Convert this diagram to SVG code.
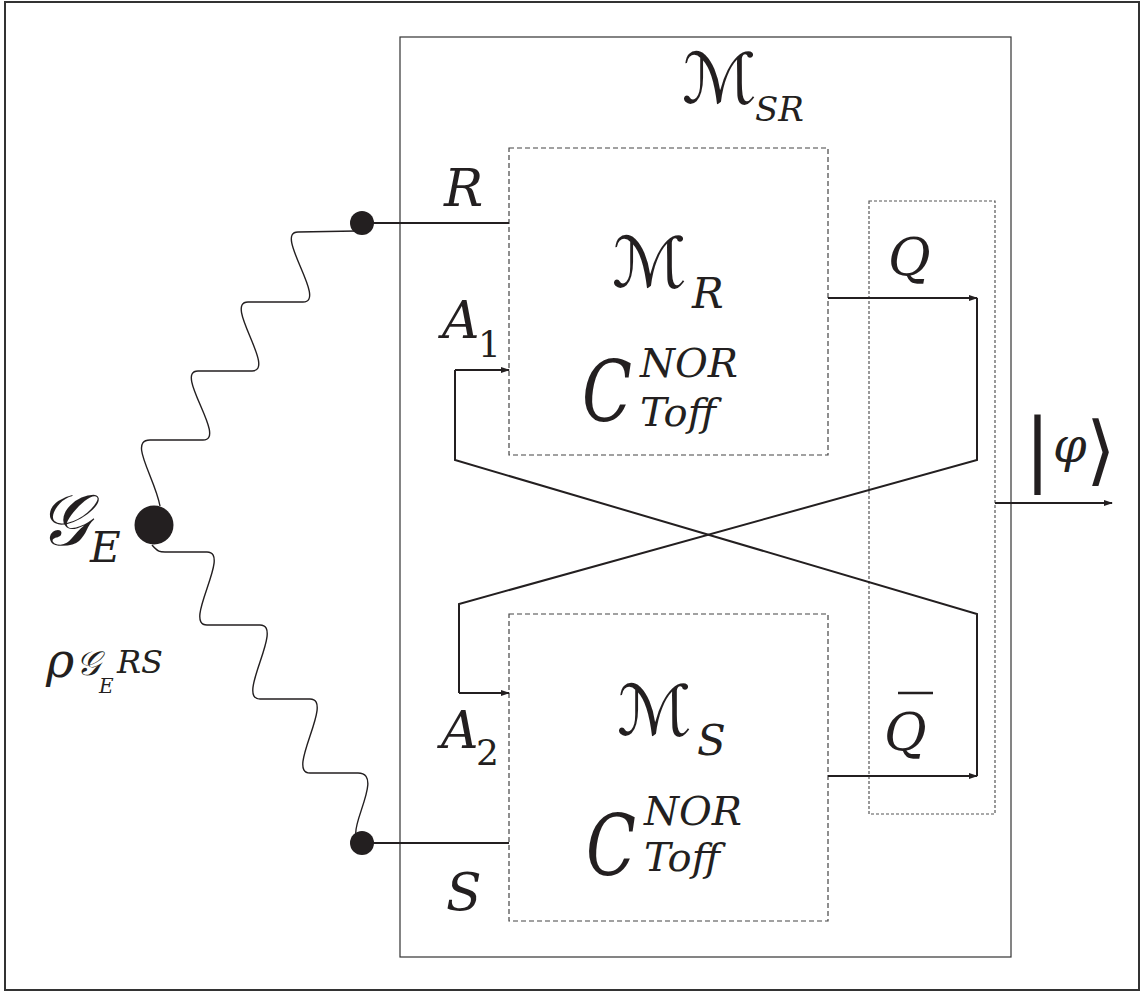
<svg xmlns="http://www.w3.org/2000/svg" width="1141" height="993" viewBox="0 0 1141 993">
<style>
.m{font-family:'DejaVu Serif','Liberation Serif',serif;font-style:italic;fill:#231f20}
.r{font-family:'DejaVu Serif','Liberation Serif',serif;fill:#231f20}
.s{font-family:'DejaVu Sans','Noto Sans',sans-serif;fill:#231f20}
.w{fill:none;stroke:#231f20;stroke-width:1.4}
.c{fill:none;stroke:#231f20;stroke-width:2}
.d{fill:none;stroke:#444;stroke-width:1.2;stroke-dasharray:5 3}
.o{fill:none;stroke:#555;stroke-width:1.2;stroke-dasharray:3 2}
.dot{fill:#231f20}
</style>
<defs>
<marker id="ah" markerUnits="userSpaceOnUse" markerWidth="9" markerHeight="6" refX="8" refY="3" orient="auto">
<path d="M0,0 L9,3 L0,6 z" fill="#231f20"/>
</marker>
</defs>
<rect x="0" y="0" width="1141" height="993" fill="#fff"/>
<rect x="5" y="2" width="1134" height="988" fill="none" stroke="#333" stroke-width="2"/>

<g id="msr">
<rect x="400" y="37" width="611" height="920" fill="none" stroke="#333" stroke-width="1.2"/>
<text class="s" x="682" y="103" font-size="70">ℳ</text>
<text class="m" x="755" y="121" font-size="34">SR</text>
</g>

<g id="mr">
<rect class="d" x="509" y="148" width="319" height="307"/>
<text class="s" x="612" y="287" font-size="70">ℳ</text>
<text class="m" x="692" y="308" font-size="42">R</text>
<text class="m" x="582" y="421" font-size="84" textLength="50" lengthAdjust="spacingAndGlyphs">C</text>
<text class="m" x="640" y="377" font-size="40">NOR</text>
<text class="m" x="640" y="426" font-size="40">Toff</text>
</g>

<g id="ms">
<rect class="d" x="509" y="614" width="319" height="307"/>
<text class="s" x="617" y="735" font-size="70">ℳ</text>
<text class="m" x="697" y="755" font-size="42">S</text>
<text class="m" x="586" y="875" font-size="84" textLength="50" lengthAdjust="spacingAndGlyphs">C</text>
<text class="m" x="644" y="825" font-size="40">NOR</text>
<text class="m" x="644" y="871" font-size="40">Toff</text>
</g>

<g id="out">
<rect class="o" x="869" y="201" width="126" height="613"/>
</g>

<g id="ge">
<circle class="dot" cx="154" cy="525" r="19.5"/>
<text class="m" x="38" y="545" font-size="72">𝒢</text>
<text class="m" x="90" y="562" font-size="42">E</text>
<text class="m" x="46" y="677" font-size="48">ρ</text>
<text class="m" x="76" y="675" font-size="34">𝒢</text>
<text class="m" x="99" y="693" font-size="20">E</text>
<text class="m" x="117" y="673" font-size="32">RS</text>
</g>

<g id="rnode">
<circle class="dot" cx="362" cy="223" r="12"/>
<text class="m" x="444" y="206" font-size="52">R</text>
</g>
<g id="snode">
<circle class="dot" cx="362" cy="843" r="12"/>
<text class="m" x="446" y="910" font-size="52">S</text>
</g>

<g id="labels">
<text class="m" x="442" y="338" font-size="52">A</text>
<text class="r" x="478" y="357" font-size="36">1</text>
<text class="m" x="441" y="748" font-size="52">A</text>
<text class="r" x="476" y="765" font-size="36">2</text>
<text class="m" x="888" y="275" font-size="52">Q</text>
<text class="m" x="884" y="750" font-size="52">Q</text>
<line x1="898" y1="693" x2="933" y2="693" stroke="#231f20" stroke-width="2.5"/>
<text class="r" x="1024" y="476" font-size="80">|</text>
<text class="m" x="1053" y="462" font-size="48">φ</text>
<text class="s" x="1086" y="476" font-size="76">⟩</text>
</g>

<g id="connectors">
<path class="w" d="M160,506 C155,478 128,440 150,440 L203,440 C228,440 173,371 198,371 L252,371 C277,371 223,302 248,302 L303,302 C328,302 273,232 298,232 L356,231"/>
<path class="w" d="M152,545 C158,552 160,552 165,552 L207,552 C232,552 182,625 207,625 L260,625 C285,625 235,699 260,699 L310,699 C335,699 285,773 310,773 L358,773 C383,773 352,822 356,835"/>
<line class="c" x1="372" y1="223" x2="509" y2="223"/>
<line class="c" x1="372" y1="843" x2="509" y2="843"/>
<line class="c" x1="828" y1="298" x2="977" y2="298" marker-end="url(#ah)"/>
<line class="c" x1="828" y1="776" x2="977" y2="776" marker-end="url(#ah)"/>
<polyline class="c" points="977,298 977,460 459,604 459,693"/>
<line class="c" x1="459" y1="693" x2="509" y2="693" marker-end="url(#ah)"/>
<polyline class="c" points="977,776 977,614 455,460 455,370"/>
<line class="c" x1="455" y1="370" x2="509" y2="370" marker-end="url(#ah)"/>
<line class="c" x1="995" y1="503" x2="1112" y2="503" marker-end="url(#ah)"/>
</g>
</svg>
